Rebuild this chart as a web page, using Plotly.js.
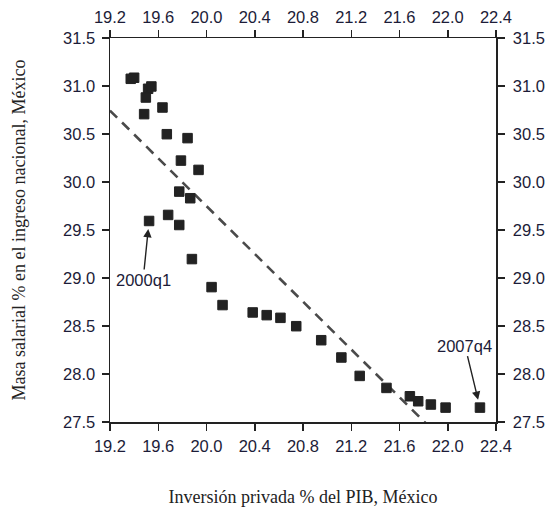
<!DOCTYPE html>
<html>
<head>
<meta charset="utf-8">
<script src="https://cdn.plot.ly/plotly-3.0.1.min.js"></script>
<style>html,body{margin:0;padding:0;background:#fff;}#chart{width:546px;height:507px;}</style>
</head>
<body>
<div id="chart"></div>
<script>
// Quarterly observations 2000q1 .. 2007q4
var quarters = ['2000q1','2000q2','2000q3','2000q4','2001q1','2001q2','2001q3','2001q4',
  '2002q1','2002q2','2002q3','2002q4','2003q1','2003q2','2003q3','2003q4',
  '2004q1','2004q2','2004q3','2004q4','2005q1','2005q2','2005q3','2005q4',
  '2006q1','2006q2','2006q3','2006q4','2007q1','2007q2','2007q3','2007q4'];
// Inversión privada % del PIB (x) and Masa salarial % (y)
var inversion = [19.524, 19.682, 19.774, 19.879, 20.042, 20.133, 20.383, 20.499,
  20.613, 20.744, 20.951, 21.118, 21.270, 21.492, 21.686, 21.755,
  21.860, 21.982, 19.372, 19.400, 19.516, 19.543, 19.497, 19.635,
  19.483, 19.671, 19.843, 19.788, 19.934, 19.774, 19.865, 22.267];
var masa = [29.594, 29.657, 29.552, 29.197, 28.905, 28.718, 28.641, 28.613,
  28.585, 28.498, 28.352, 28.172, 27.980, 27.855, 27.768, 27.716,
  27.682, 27.650, 31.075, 31.086, 30.971, 30.995, 30.880, 30.776,
  30.707, 30.498, 30.457, 30.223, 30.126, 29.900, 29.831, 27.650];
var xTicks = [19.2, 19.6, 20.0, 20.4, 20.8, 21.2, 21.6, 22.0, 22.4];
var yTicks = [27.5, 28.0, 28.5, 29.0, 29.5, 30.0, 30.5, 31.0, 31.5];

// OLS fit line
var n = inversion.length, mx = 0, my = 0;
for (var i = 0; i < n; i++) { mx += inversion[i]; my += masa[i]; }
mx /= n; my /= n;
var sxy = 0, sxx = 0;
for (var i = 0; i < n; i++) { sxy += (inversion[i]-mx)*(masa[i]-my); sxx += (inversion[i]-mx)*(inversion[i]-mx); }
var slope = sxy / sxx, icpt = my - slope * mx;
var fitX = [xTicks[0], xTicks[xTicks.length-1]];
var fitY = fitX.map(function (v) { return icpt + slope * v; });

var tickFont = {family: 'Liberation Sans, Arial, sans-serif', size: 16.5, color: '#1c1c38'};
var titleFont = {family: 'Liberation Serif, serif', size: 18, color: '#222'};
var lineCol = '#222';

var traces = [
  {x: fitX, y: fitY, mode: 'lines', type: 'scatter',
   line: {color: '#4a4a4a', width: 2.6, dash: '10px,7px'}, hoverinfo: 'skip', showlegend: false},
  {x: inversion, y: masa, text: quarters, mode: 'markers', type: 'scatter',
   marker: {symbol: 'square', size: 9.5, color: '#222', line: {color: '#222', width: 1}},
   showlegend: false, cliponaxis: false},
  {x: [], y: [], xaxis: 'x2', yaxis: 'y2', type: 'scatter', mode: 'markers', showlegend: false}
];

var axBase = {
  showgrid: false, zeroline: false, showline: true, linecolor: lineCol, linewidth: 1.5,
  ticks: 'outside', ticklen: 7, tickwidth: 1.5, tickcolor: lineCol, tickfont: tickFont,
  tickformat: '.1f'
};
function ax(extra) { var o = {}; for (var k in axBase) o[k] = axBase[k]; for (var k in extra) o[k] = extra[k]; return o; }

var layout = {
  width: 546, height: 507,
  margin: {l: 110, r: 50, t: 38, b: 85},
  paper_bgcolor: '#fff', plot_bgcolor: '#fff',
  xaxis: ax({range: [19.2, 22.4], tickmode: 'array', tickvals: xTicks, side: 'bottom', ticklabelstandoff: 2,
    title: {text: 'Inversión privada % del PIB, México', font: titleFont, standoff: 38}}),
  yaxis: ax({range: [27.5, 31.5], tickmode: 'array', tickvals: yTicks, side: 'left', ticklabelstandoff: 3,
    title: {text: 'Masa salarial % en el ingreso nacional, México', font: titleFont, standoff: 33}}),
  xaxis2: ax({range: [19.2, 22.4], tickmode: 'array', tickvals: xTicks, side: 'top', overlaying: 'x', anchor: 'y2'}),
  yaxis2: ax({range: [27.5, 31.5], tickmode: 'array', tickvals: yTicks, side: 'right', overlaying: 'y', anchor: 'x2', ticklabelstandoff: 5}),
  annotations: [
    {x: inversion[0], y: masa[0], xref: 'x', yref: 'y', text: quarters[0],
     showarrow: true, arrowhead: 2, arrowsize: 1.2, arrowwidth: 1.4, arrowcolor: '#222',
     ax: -6, ay: 59, standoff: 8, font: {family: 'Liberation Sans, Arial, sans-serif', size: 16.5, color: '#1c1c38'}},
    {x: inversion[n-1], y: masa[n-1], xref: 'x', yref: 'y', text: quarters[n-1],
     showarrow: true, arrowhead: 2, arrowsize: 1.2, arrowwidth: 1.4, arrowcolor: '#222',
     ax: -15, ay: -62, standoff: 8, font: {family: 'Liberation Sans, Arial, sans-serif', size: 16.5, color: '#1c1c38'}}
  ]
};

Plotly.newPlot('chart', traces, layout, {displayModeBar: false, staticPlot: true});
</script>
</body>
</html>
